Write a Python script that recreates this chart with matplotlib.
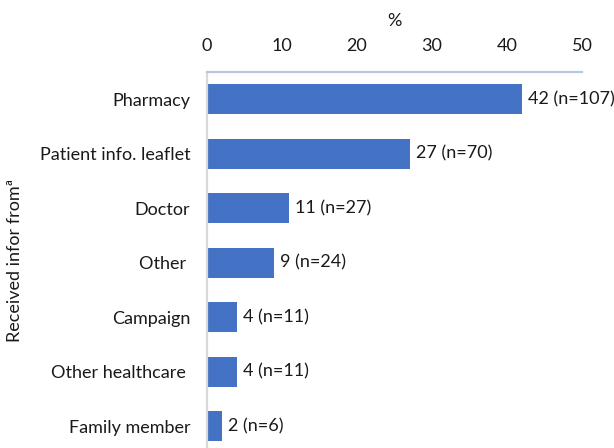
"""Horizontal bar chart of where respondents received information from."""

import matplotlib
matplotlib.use('Agg')
import matplotlib.pyplot as plt

categories = ['Pharmacy', 'Patient info. leaflet', 'Doctor', 'Other ',
              'Campaign', 'Other healthcare ', 'Family member']
percent = [42, 27, 11, 9, 4, 4, 2]
counts = [107, 70, 27, 24, 11, 11, 6]
xticks = [0, 10, 20, 30, 40, 50]


def main():
    plt.rcParams['font.family'] = ['Lato', 'DejaVu Sans']
    fig = plt.figure(figsize=(6.14, 4.48), dpi=100)
    ax = fig.add_axes([0.337, 0.0, 0.611, 0.839])
    fs = 13
    txt = '#1a1a1a'

    pos = list(range(len(categories)))
    ax.barh(pos, percent, height=0.55, color='#4472C4')
    for y, p, n in zip(pos, percent, counts):
        ax.text(p + 0.8, y, f'{p} (n={n})', va='center', ha='left',
                fontsize=fs, color=txt)

    ax.set_xlim(0, 50)
    ax.set_ylim(6.40, -0.495)
    ax.set_yticks(pos)
    ax.set_yticklabels(categories, fontsize=fs, color=txt)
    ax.set_xticks(xticks)
    ax.set_xticklabels([str(t) for t in xticks], fontsize=fs, color=txt)
    ax.xaxis.set_ticks_position('top')
    ax.xaxis.set_label_position('top')
    ax.tick_params(axis='x', length=0, pad=13)
    ax.tick_params(axis='y', length=0, pad=12)
    ax.set_xlabel('%', fontsize=fs, color=txt, labelpad=9)
    ax.set_ylabel('Received infor fromª', fontsize=fs, color=txt,
                  labelpad=12)

    ax.spines['right'].set_visible(False)
    ax.spines['bottom'].set_visible(False)
    ax.spines['top'].set_color('#B4C7E7')
    ax.spines['top'].set_linewidth(1.6)
    ax.spines['left'].set_color('#D9D9D9')
    ax.spines['left'].set_linewidth(1.6)

    fig.savefig('out.png', dpi=100)


if __name__ == '__main__':
    main()
